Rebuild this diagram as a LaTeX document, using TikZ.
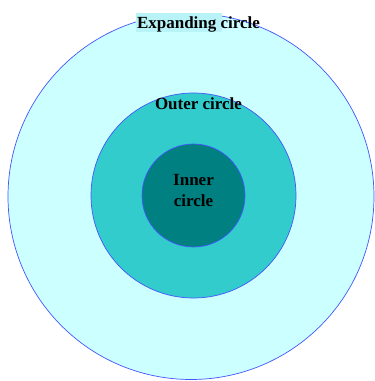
\documentclass[tikz,border=0pt]{standalone}
\usepackage{fontspec}
\setmainfont{Liberation Serif}
\usetikzlibrary{positioning}
\definecolor{RingPale}{HTML}{CCFFFF}
\definecolor{RingMid}{HTML}{33CCCC}
\definecolor{RingCore}{HTML}{008080}
\definecolor{RingEdge}{HTML}{4455FF}
\definecolor{RingGlow}{HTML}{B8F3F8}
\begin{document}
\begin{tikzpicture}[
  x=1pt,
  y=1pt,
  font=\fontsize{17}{20.4}\selectfont\bfseries,
  ring/.style={
    circle,
    draw=RingEdge,
    line width=0.7pt,
    inner sep=0pt
  },
  expandring/.style={ring, fill=RingPale, minimum size=366pt},
  outerring/.style={ring, fill=RingMid, minimum size=205pt},
  innerring/.style={ring, fill=RingCore, minimum size=103pt},
  ringlabel/.style={inner sep=0pt, align=center, text=black}
]
\useasboundingbox (0,0) rectangle (375,381);

\node[expandring] (expand) at (191,184.5) {};
\node[outerring] (outer) at (193.5,185.5) {};
\node[innerring] (inner) at (193.5,185.5) {};

% faint highlight behind the top label
\fill[RingGlow] (136,349) rectangle (222,368);

\node[ringlabel, anchor=base] (expandlabel) at (198.5,352.5) {Expanding circle};
\node[ringlabel, anchor=base] (outerlabel) at (198.5,271) {Outer circle};
\node[ringlabel] (innerlabel) at (193.5,190.5) {Inner\\circle};
\end{tikzpicture}
\end{document}
